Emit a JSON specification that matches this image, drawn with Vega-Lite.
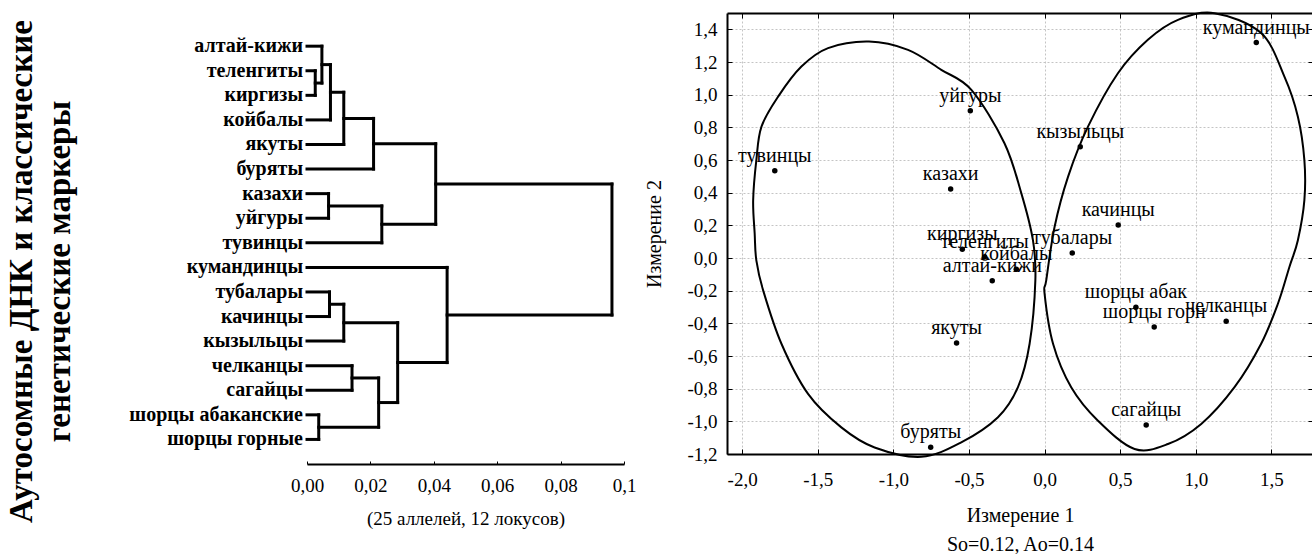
{
  "$schema": "https://vega.github.io/schema/vega-lite/v6.json",
  "background": "white",
  "padding": {"left": 5, "top": 8, "right": 0, "bottom": 0},
  "bounds": "flush",
  "spacing": 103,
  "config": {
    "view": {"stroke": null},
    "font": "Liberation Serif",
    "axis": {"labelFont": "Liberation Serif", "titleFont": "Liberation Serif", "labelColor": "black", "titleColor": "black", "titleFontWeight": "normal", "labelOverlap": false, "labelFlush": false}
  },
  "hconcat": [
    {
      "width": 317,
      "height": 451,
      "layer": [
        {
          "data": {"values": [
            {"x": 0.0026, "x2": 0.0026, "y": 1, "y2": 2},
            {"x": 0, "x2": 0.0026, "y": 1, "y2": 1},
            {"x": 0, "x2": 0.0026, "y": 2, "y2": 2},
            {"x": 0.0047, "x2": 0.0047, "y": 0, "y2": 1.5},
            {"x": 0, "x2": 0.0047, "y": 0, "y2": 0},
            {"x": 0.0026, "x2": 0.0047, "y": 1.5, "y2": 1.5},
            {"x": 0.0074, "x2": 0.0074, "y": 0.75, "y2": 3},
            {"x": 0.0047, "x2": 0.0074, "y": 0.75, "y2": 0.75},
            {"x": 0, "x2": 0.0074, "y": 3, "y2": 3},
            {"x": 0.0116, "x2": 0.0116, "y": 1.875, "y2": 4},
            {"x": 0.0074, "x2": 0.0116, "y": 1.875, "y2": 1.875},
            {"x": 0, "x2": 0.0116, "y": 4, "y2": 4},
            {"x": 0.021, "x2": 0.021, "y": 2.9375, "y2": 5},
            {"x": 0.0116, "x2": 0.021, "y": 2.9375, "y2": 2.9375},
            {"x": 0, "x2": 0.021, "y": 5, "y2": 5},
            {"x": 0.0068, "x2": 0.0068, "y": 6, "y2": 7},
            {"x": 0, "x2": 0.0068, "y": 6, "y2": 6},
            {"x": 0, "x2": 0.0068, "y": 7, "y2": 7},
            {"x": 0.0236, "x2": 0.0236, "y": 6.5, "y2": 8},
            {"x": 0.0068, "x2": 0.0236, "y": 6.5, "y2": 6.5},
            {"x": 0, "x2": 0.0236, "y": 8, "y2": 8},
            {"x": 0.0406, "x2": 0.0406, "y": 3.96875, "y2": 7.25},
            {"x": 0.021, "x2": 0.0406, "y": 3.96875, "y2": 3.96875},
            {"x": 0.0236, "x2": 0.0406, "y": 7.25, "y2": 7.25},
            {"x": 0.0071, "x2": 0.0071, "y": 10, "y2": 11},
            {"x": 0, "x2": 0.0071, "y": 10, "y2": 10},
            {"x": 0, "x2": 0.0071, "y": 11, "y2": 11},
            {"x": 0.0116, "x2": 0.0116, "y": 10.5, "y2": 12},
            {"x": 0.0071, "x2": 0.0116, "y": 10.5, "y2": 10.5},
            {"x": 0, "x2": 0.0116, "y": 12, "y2": 12},
            {"x": 0.0142, "x2": 0.0142, "y": 13, "y2": 14},
            {"x": 0, "x2": 0.0142, "y": 13, "y2": 13},
            {"x": 0, "x2": 0.0142, "y": 14, "y2": 14},
            {"x": 0.0037, "x2": 0.0037, "y": 15, "y2": 16},
            {"x": 0, "x2": 0.0037, "y": 15, "y2": 15},
            {"x": 0, "x2": 0.0037, "y": 16, "y2": 16},
            {"x": 0.0226, "x2": 0.0226, "y": 13.5, "y2": 15.5},
            {"x": 0.0142, "x2": 0.0226, "y": 13.5, "y2": 13.5},
            {"x": 0.0037, "x2": 0.0226, "y": 15.5, "y2": 15.5},
            {"x": 0.0286, "x2": 0.0286, "y": 11.25, "y2": 14.5},
            {"x": 0.0116, "x2": 0.0286, "y": 11.25, "y2": 11.25},
            {"x": 0.0226, "x2": 0.0286, "y": 14.5, "y2": 14.5},
            {"x": 0.0442, "x2": 0.0442, "y": 9, "y2": 12.875},
            {"x": 0, "x2": 0.0442, "y": 9, "y2": 9},
            {"x": 0.0286, "x2": 0.0442, "y": 12.875, "y2": 12.875},
            {"x": 0.0962, "x2": 0.0962, "y": 5.609, "y2": 10.9375},
            {"x": 0.0406, "x2": 0.0962, "y": 5.609, "y2": 5.609},
            {"x": 0.0442, "x2": 0.0962, "y": 10.9375, "y2": 10.9375}
          ]},
          "mark": {"type": "rule", "color": "black", "strokeWidth": 3, "strokeCap": "square"},
          "encoding": {
            "x": {"field": "x", "type": "quantitative",
              "scale": {"domain": [0, 0.1], "nice": false, "zero": false},
              "axis": {
                "values": [0, 0.005, 0.01, 0.015, 0.02, 0.025, 0.03, 0.035, 0.04, 0.045, 0.05, 0.055, 0.06, 0.065, 0.07, 0.075, 0.08, 0.085, 0.09, 0.095, 0.1],
                "labelExpr": "datum.value > 0.099 ? '0,1' : (abs(datum.value * 50 - round(datum.value * 50)) < 0.001 ? replace(format(datum.value, '.2f'), '.', ',') : '')",
                "grid": false,
                "domainColor": "black", "domainWidth": 2,
                "tickColor": "black", "tickWidth": 1, "tickSize": -3,
                "labelFontSize": 19, "labelPadding": 15,
                "title": "(25 аллелей, 12 локусов)",
                "titleFontSize": 19, "titlePadding": 14
              }
            },
            "x2": {"field": "x2"},
            "y": {"field": "y", "type": "quantitative",
              "scale": {"domain": [-1.35, 17], "reverse": true, "nice": false, "zero": false},
              "axis": {
                "labels": false, "ticks": false, "domain": false, "grid": false,
                "title": ["Аутосомные ДНК и классические", "генетические маркеры"],
                "titleX": -276, "titleY": 258,
                "titleAngle": 270, "titleAlign": "center", "titleBaseline": "alphabetic",
                "titleFontSize": 33, "titleFontWeight": "bold", "titleLineHeight": 38
              }
            },
            "y2": {"field": "y2"}
          }
        },
        {
          "data": {"values": [
            {"name": "алтай-кижи", "i": 0, "h": 0},
            {"name": "теленгиты", "i": 1, "h": 0},
            {"name": "киргизы", "i": 2, "h": 0},
            {"name": "койбалы", "i": 3, "h": 0},
            {"name": "якуты", "i": 4, "h": 0},
            {"name": "буряты", "i": 5, "h": 0},
            {"name": "казахи", "i": 6, "h": 0},
            {"name": "уйгуры", "i": 7, "h": 0},
            {"name": "тувинцы", "i": 8, "h": 0},
            {"name": "кумандинцы", "i": 9, "h": 0},
            {"name": "тубалары", "i": 10, "h": 0},
            {"name": "качинцы", "i": 11, "h": 0},
            {"name": "кызыльцы", "i": 12, "h": 0},
            {"name": "челканцы", "i": 13, "h": 0},
            {"name": "сагайцы", "i": 14, "h": 0},
            {"name": "шорцы абаканские", "i": 15, "h": 0},
            {"name": "шорцы горные", "i": 16, "h": 0}
          ]},
          "mark": {"type": "text", "align": "right", "baseline": "middle", "dx": -4, "font": "Liberation Serif", "fontWeight": "bold", "fontSize": 20, "color": "black"},
          "encoding": {
            "x": {"field": "h", "type": "quantitative"},
            "y": {"field": "i", "type": "quantitative"},
            "text": {"field": "name"}
          }
        }
      ]
    },
    {
      "width": 586,
      "height": 441,
      "resolve": {"axis": {"x": "independent", "y": "independent"}},
      "layer": [
        {
          "data": {"values": [
            {"e": "L", "o": 1, "x": -1.161, "y": 1.325},
            {"e": "L", "o": 2, "x": -0.903, "y": 1.274},
            {"e": "L", "o": 3, "x": -0.683, "y": 1.152},
            {"e": "L", "o": 4, "x": -0.484, "y": 1.029},
            {"e": "L", "o": 5, "x": -0.266, "y": 0.704},
            {"e": "L", "o": 6, "x": -0.154, "y": 0.397},
            {"e": "L", "o": 7, "x": -0.077, "y": 0.109},
            {"e": "L", "o": 8, "x": -0.061, "y": -0.137},
            {"e": "L", "o": 9, "x": -0.099, "y": -0.525},
            {"e": "L", "o": 10, "x": -0.176, "y": -0.791},
            {"e": "L", "o": 11, "x": -0.308, "y": -0.975},
            {"e": "L", "o": 12, "x": -0.551, "y": -1.129},
            {"e": "L", "o": 13, "x": -0.815, "y": -1.217},
            {"e": "L", "o": 14, "x": -1.124, "y": -1.16},
            {"e": "L", "o": 15, "x": -1.344, "y": -1.037},
            {"e": "L", "o": 16, "x": -1.564, "y": -0.832},
            {"e": "L", "o": 17, "x": -1.74, "y": -0.525},
            {"e": "L", "o": 18, "x": -1.861, "y": -0.198},
            {"e": "L", "o": 19, "x": -1.906, "y": -0.014},
            {"e": "L", "o": 20, "x": -1.917, "y": 0.15},
            {"e": "L", "o": 21, "x": -1.927, "y": 0.354},
            {"e": "L", "o": 22, "x": -1.906, "y": 0.599},
            {"e": "L", "o": 23, "x": -1.872, "y": 0.804},
            {"e": "L", "o": 24, "x": -1.762, "y": 0.988},
            {"e": "L", "o": 25, "x": -1.608, "y": 1.172},
            {"e": "L", "o": 26, "x": -1.432, "y": 1.285},
            {"e": "R", "o": 1, "x": 1.124, "y": 1.499},
            {"e": "R", "o": 2, "x": 1.432, "y": 1.377},
            {"e": "R", "o": 3, "x": 1.586, "y": 1.11},
            {"e": "R", "o": 4, "x": 1.675, "y": 0.865},
            {"e": "R", "o": 5, "x": 1.718, "y": 0.599},
            {"e": "R", "o": 6, "x": 1.718, "y": 0.354},
            {"e": "R", "o": 7, "x": 1.675, "y": 0.109},
            {"e": "R", "o": 8, "x": 1.619, "y": -0.055},
            {"e": "R", "o": 9, "x": 1.543, "y": -0.28},
            {"e": "R", "o": 10, "x": 1.432, "y": -0.525},
            {"e": "R", "o": 11, "x": 1.256, "y": -0.791},
            {"e": "R", "o": 12, "x": 1.036, "y": -1.016},
            {"e": "R", "o": 13, "x": 0.816, "y": -1.139},
            {"e": "R", "o": 14, "x": 0.595, "y": -1.169},
            {"e": "R", "o": 15, "x": 0.353, "y": -0.996},
            {"e": "R", "o": 16, "x": 0.176, "y": -0.791},
            {"e": "R", "o": 17, "x": 0.056, "y": -0.525},
            {"e": "R", "o": 18, "x": 0.0, "y": -0.218},
            {"e": "R", "o": 19, "x": 0.011, "y": -0.137},
            {"e": "R", "o": 20, "x": 0.066, "y": 0.19},
            {"e": "R", "o": 21, "x": 0.155, "y": 0.497},
            {"e": "R", "o": 22, "x": 0.287, "y": 0.804},
            {"e": "R", "o": 23, "x": 0.485, "y": 1.131},
            {"e": "R", "o": 24, "x": 0.683, "y": 1.336},
            {"e": "R", "o": 25, "x": 0.882, "y": 1.458}
          ]},
          "mark": {"type": "line", "interpolate": "cardinal-closed", "color": "black", "strokeWidth": 2},
          "encoding": {
            "x": {"field": "x", "type": "quantitative",
              "scale": {"domain": [-2.1, 1.775], "nice": false, "zero": false},
              "axis": {
                "orient": "bottom",
                "values": [-2, -1.5, -1, -0.5, 0, 0.5, 1, 1.5],
                "labelExpr": "replace(replace(format(datum.value, '.1f'), '.', ','), '\u2212', '-')",
                "grid": true, "gridColor": "#c4c4c4", "gridDash": [2, 2], "gridWidth": 1,
                "domainColor": "black", "domainWidth": 2,
                "tickColor": "black", "tickWidth": 1, "tickSize": -5,
                "labelFontSize": 19, "labelPadding": 21,
                "title": ["Измерение 1", "So=0.12, Ao=0.14"],
                "titleFontSize": 20, "titleLineHeight": 29, "titlePadding": 16
              }
            },
            "y": {"field": "y", "type": "quantitative",
              "scale": {"domain": [-1.2, 1.5], "nice": false, "zero": false},
              "axis": {
                "orient": "left",
                "values": [-1.2, -1, -0.8, -0.6, -0.4, -0.2, 0, 0.2, 0.4, 0.6, 0.8, 1, 1.2, 1.4],
                "labelExpr": "replace(replace(format(datum.value, '.1f'), '.', ','), '\u2212', '-')",
                "grid": true, "gridColor": "#c4c4c4", "gridDash": [2, 2], "gridWidth": 1,
                "domainColor": "black", "domainWidth": 2,
                "tickColor": "black", "tickWidth": 1, "tickSize": -5,
                "labelFontSize": 19, "labelPadding": 15,
                "title": "Измерение 2",
                "titleFontSize": 20, "titlePadding": 22
              }
            },
            "detail": {"field": "e"},
            "order": {"field": "o", "type": "quantitative"}
          }
        },
        {
          "data": {"name": "pts", "values": [
            {"n": "кумандинцы", "x": 1.4, "y": 1.319},
            {"n": "уйгуры", "x": -0.491, "y": 0.902},
            {"n": "тувинцы", "x": -1.784, "y": 0.534},
            {"n": "казахи", "x": -0.621, "y": 0.423},
            {"n": "кызыльцы", "x": 0.236, "y": 0.681},
            {"n": "качинцы", "x": 0.487, "y": 0.202},
            {"n": "тубалары", "x": 0.183, "y": 0.031},
            {"n": "киргизы", "x": -0.544, "y": 0.053},
            {"n": "теленгиты", "x": -0.397, "y": 0.006},
            {"n": "койбалы", "x": -0.187, "y": -0.069},
            {"n": "алтай-кижи", "x": -0.346, "y": -0.139},
            {"n": "шорцы абак", "x": 0.604, "y": -0.301},
            {"n": "шорцы горн", "x": 0.725, "y": -0.423},
            {"n": "челканцы", "x": 1.201, "y": -0.387},
            {"n": "сагайцы", "x": 0.672, "y": -1.022},
            {"n": "якуты", "x": -0.582, "y": -0.521},
            {"n": "буряты", "x": -0.753, "y": -1.159}
          ]},
          "mark": {"type": "point", "filled": true, "color": "black", "size": 30, "opacity": 1},
          "encoding": {
            "x": {"field": "x", "type": "quantitative",
              "scale": {"domain": [-2.1, 1.775], "nice": false, "zero": false},
              "axis": {
                "orient": "top",
                "values": [-2, -1.5, -1, -0.5, 0, 0.5, 1, 1.5],
                "labels": false, "grid": false, "title": null,
                "domainColor": "black", "domainWidth": 2,
                "tickColor": "black", "tickWidth": 1, "tickSize": -5
              }
            },
            "y": {"field": "y", "type": "quantitative",
              "scale": {"domain": [-1.2, 1.5], "nice": false, "zero": false},
              "axis": {
                "orient": "right",
                "values": [-1.2, -1, -0.8, -0.6, -0.4, -0.2, 0, 0.2, 0.4, 0.6, 0.8, 1, 1.2, 1.4],
                "labels": false, "grid": false, "title": null,
                "domainColor": "black", "domainWidth": 2,
                "tickColor": "black", "tickWidth": 1, "tickSize": -5
              }
            }
          }
        },
        {
          "data": {"name": "pts"},
          "mark": {"type": "text", "align": "center", "baseline": "alphabetic", "dy": -9, "font": "Liberation Serif", "fontSize": 20, "color": "black"},
          "encoding": {
            "x": {"field": "x", "type": "quantitative", "scale": {"domain": [-2.1, 1.775], "nice": false, "zero": false}, "axis": null},
            "y": {"field": "y", "type": "quantitative", "scale": {"domain": [-1.2, 1.5], "nice": false, "zero": false}, "axis": null},
            "text": {"field": "n"}
          }
        }
      ]
    }
  ]
}
